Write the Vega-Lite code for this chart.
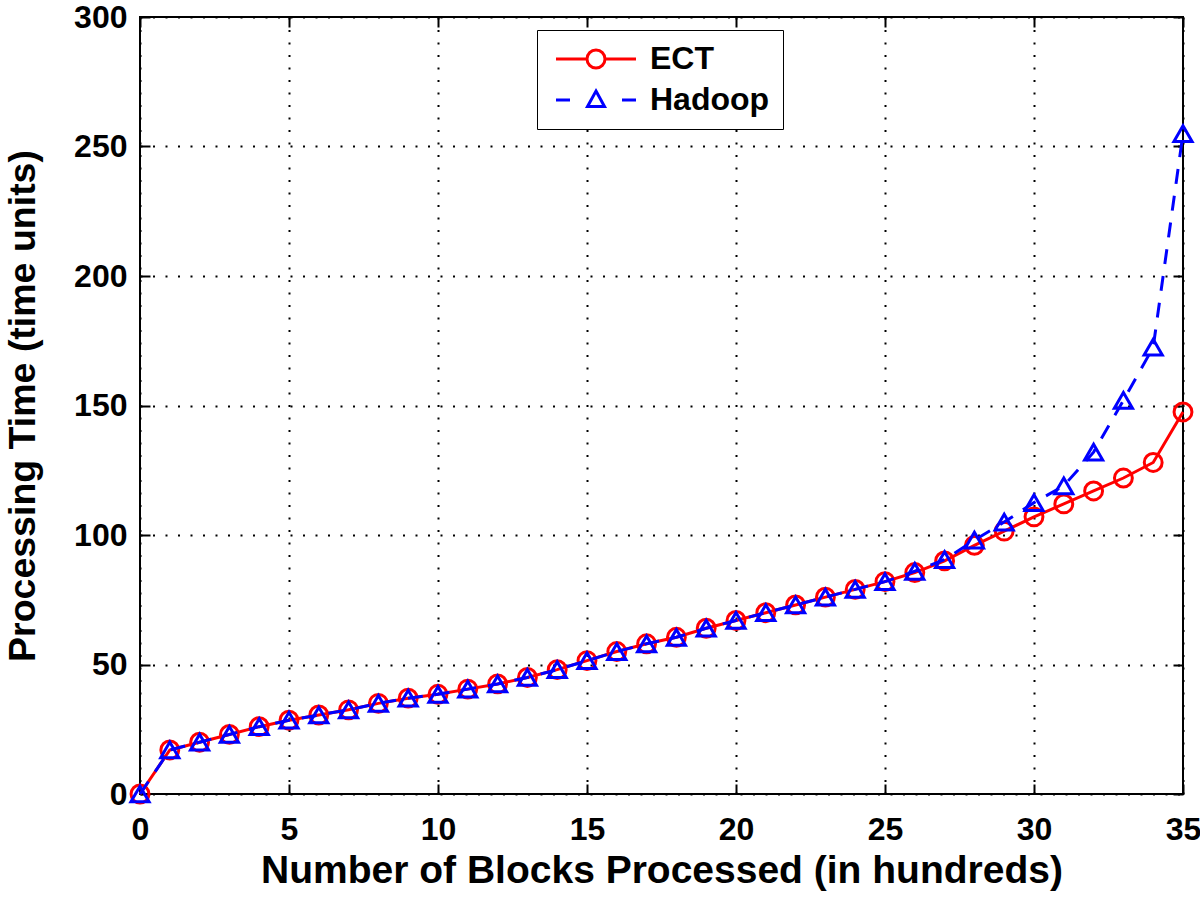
{
  "$schema": "https://vega.github.io/schema/vega-lite/v6.json",
  "width": 1043,
  "height": 777,
  "autosize": "none",
  "padding": {"left": 140, "top": 17, "right": 17, "bottom": 104},
  "background": "white",
  "config": {
    "view": {"stroke": "black", "strokeWidth": 2},
    "font": "Liberation Sans",
    "axis": {
      "labelFont": "Liberation Sans", "labelFontWeight": "bold", "labelFontSize": 32, "labelColor": "black",
      "titleFont": "Liberation Sans", "titleFontWeight": "bold", "titleColor": "black",
      "domain": false, "tickColor": "black", "tickSize": -10, "tickWidth": 2,
      "labelFlush": false, "labelOverlap": false, "labelBound": false,
      "gridColor": "black", "gridDash": [2, 10.5], "gridWidth": 2
    }
  },
  "data": {"values": [
    {"x":0,"y":0,"s":"ECT"},{"x":1,"y":17,"s":"ECT"},{"x":2,"y":20,"s":"ECT"},{"x":3,"y":23,"s":"ECT"},{"x":4,"y":26,"s":"ECT"},{"x":5,"y":28.5,"s":"ECT"},{"x":6,"y":30.5,"s":"ECT"},{"x":7,"y":32.5,"s":"ECT"},{"x":8,"y":35,"s":"ECT"},{"x":9,"y":37,"s":"ECT"},{"x":10,"y":38.5,"s":"ECT"},{"x":11,"y":40.5,"s":"ECT"},{"x":12,"y":42.5,"s":"ECT"},{"x":13,"y":45,"s":"ECT"},{"x":14,"y":48,"s":"ECT"},{"x":15,"y":51.5,"s":"ECT"},{"x":16,"y":55,"s":"ECT"},{"x":17,"y":58,"s":"ECT"},{"x":18,"y":60.5,"s":"ECT"},{"x":19,"y":64,"s":"ECT"},{"x":20,"y":67,"s":"ECT"},{"x":21,"y":70,"s":"ECT"},{"x":22,"y":73,"s":"ECT"},{"x":23,"y":76,"s":"ECT"},{"x":24,"y":79,"s":"ECT"},{"x":25,"y":82,"s":"ECT"},{"x":26,"y":85.5,"s":"ECT"},{"x":27,"y":90,"s":"ECT"},{"x":28,"y":96,"s":"ECT"},{"x":29,"y":101.5,"s":"ECT"},{"x":30,"y":107,"s":"ECT"},{"x":31,"y":112,"s":"ECT"},{"x":32,"y":117,"s":"ECT"},{"x":33,"y":122,"s":"ECT"},{"x":34,"y":128,"s":"ECT"},{"x":35,"y":147.5,"s":"ECT"},
    {"x":0,"y":0,"s":"Hadoop"},{"x":1,"y":17,"s":"Hadoop"},{"x":2,"y":20,"s":"Hadoop"},{"x":3,"y":23,"s":"Hadoop"},{"x":4,"y":26,"s":"Hadoop"},{"x":5,"y":28.5,"s":"Hadoop"},{"x":6,"y":30.5,"s":"Hadoop"},{"x":7,"y":32.5,"s":"Hadoop"},{"x":8,"y":35,"s":"Hadoop"},{"x":9,"y":37,"s":"Hadoop"},{"x":10,"y":38.5,"s":"Hadoop"},{"x":11,"y":40.5,"s":"Hadoop"},{"x":12,"y":42.5,"s":"Hadoop"},{"x":13,"y":45,"s":"Hadoop"},{"x":14,"y":48,"s":"Hadoop"},{"x":15,"y":51.5,"s":"Hadoop"},{"x":16,"y":55,"s":"Hadoop"},{"x":17,"y":58,"s":"Hadoop"},{"x":18,"y":60.5,"s":"Hadoop"},{"x":19,"y":64,"s":"Hadoop"},{"x":20,"y":67,"s":"Hadoop"},{"x":21,"y":70,"s":"Hadoop"},{"x":22,"y":73,"s":"Hadoop"},{"x":23,"y":76,"s":"Hadoop"},{"x":24,"y":79,"s":"Hadoop"},{"x":25,"y":82,"s":"Hadoop"},{"x":26,"y":86,"s":"Hadoop"},{"x":27,"y":90.5,"s":"Hadoop"},{"x":28,"y":98,"s":"Hadoop"},{"x":29,"y":105,"s":"Hadoop"},{"x":30,"y":112.5,"s":"Hadoop"},{"x":31,"y":119,"s":"Hadoop"},{"x":32,"y":132,"s":"Hadoop"},{"x":33,"y":152,"s":"Hadoop"},{"x":34,"y":172.5,"s":"Hadoop"},{"x":35,"y":255,"s":"Hadoop"}
  ]},
  "resolve": {"axis": {"x": "independent", "y": "independent"}},
  "layer": [
    {
      "transform": [{"filter": "datum.s == 'ECT'"}],
      "mark": {"type": "line", "strokeWidth": 3, "color": "#ff0000"},
      "encoding": {
        "x": {"field": "x", "type": "quantitative", "scale": {"domain": [0, 35], "nice": false, "zero": false},
              "axis": {"orient": "bottom", "values": [0,5,10,15,20,25,30,35], "grid": true, "title": "Number of Blocks Processed (in hundreds)", "titleFontSize": 39, "titleY": 57, "titleBaseline": "top", "labelPadding": 30}},
        "y": {"field": "y", "type": "quantitative", "scale": {"domain": [0, 300], "nice": false},
              "axis": {"orient": "left", "values": [0,50,100,150,200,250,300], "grid": true, "title": "Processing Time (time units)", "titleFontSize": 37.5, "titlePadding": 31, "labelPadding": 23}}
      }
    },
    {
      "transform": [{"filter": "datum.s == 'ECT'"}],
      "mark": {"type": "point", "shape": "circle", "filled": false, "size": 320, "strokeWidth": 3, "color": "#ff0000", "opacity": 1},
      "encoding": {
        "x": {"field": "x", "type": "quantitative", "axis": null},
        "y": {"field": "y", "type": "quantitative", "axis": null}
      }
    },
    {
      "transform": [{"filter": "datum.s == 'Hadoop'"}],
      "mark": {"type": "line", "strokeWidth": 3, "color": "#0000ff", "strokeDash": [15, 12]},
      "encoding": {
        "x": {"field": "x", "type": "quantitative",
              "axis": {"orient": "top", "values": [0,5,10,15,20,25,30,35], "grid": false, "labels": false, "title": null}},
        "y": {"field": "y", "type": "quantitative",
              "axis": {"orient": "right", "values": [0,50,100,150,200,250,300], "grid": false, "labels": false, "title": null}}
      }
    },
    {
      "transform": [{"filter": "datum.s == 'Hadoop'"}],
      "mark": {"type": "point", "shape": "triangle-up", "filled": false, "size": 330, "strokeWidth": 3, "color": "#0000ff", "opacity": 1},
      "encoding": {
        "x": {"field": "x", "type": "quantitative", "axis": null},
        "y": {"field": "y", "type": "quantitative", "axis": null}
      }
    },
    {
      "transform": [{"filter": "datum.x < 0"}],
      "mark": {"type": "point", "filled": false, "strokeWidth": 3, "opacity": 1},
      "encoding": {
        "x": {"field": "x", "type": "quantitative", "axis": null},
        "y": {"field": "y", "type": "quantitative", "axis": null},
        "color": {"field": "s", "type": "nominal", "scale": {"domain": ["ECT", "Hadoop"], "range": ["#ff0000", "#0000ff"]},
                  "legend": {"title": null, "orient": "none", "legendX": 397, "legendY": 13, "strokeColor": "black", "fillColor": "white",
                             "padding": 13, "labelFontSize": 32, "labelFontWeight": "bold", "labelColor": "black", "labelFont": "Liberation Sans",
                             "symbolSize": 400, "symbolStrokeWidth": 3, "symbolFillColor": "transparent", "rowPadding": 9, "labelOffset": 68,
                             "encode": {"legend": {"update": {"strokeWidth": {"value": 2.5}}}}}},
        "shape": {"field": "s", "type": "nominal", "scale": {"domain": ["ECT", "Hadoop"], "range": [
          "M-1,0L2.1,0M3.9,0L7,0M3.9,0A0.9,0.9,0,1,1,2.1,0A0.9,0.9,0,1,1,3.9,0",
          "M-1,0L0.4,0M5.6,0L7,0M3,-0.9L3.85,0.65L2.15,0.65Z"
        ]}}
      }
    }
  ]
}
